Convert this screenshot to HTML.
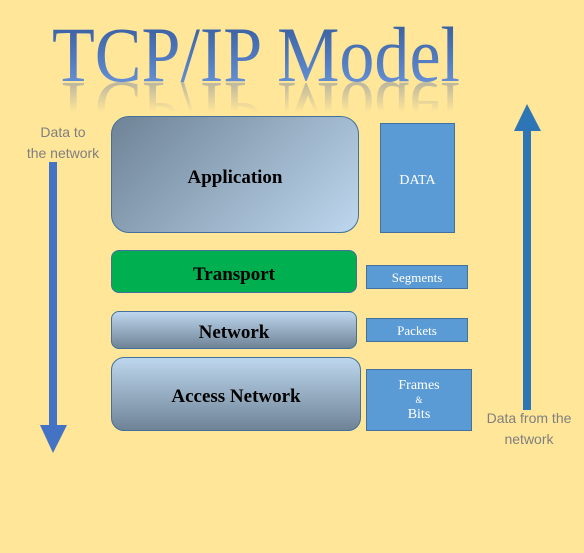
<!DOCTYPE html>
<html><head><style>
body{margin:0;width:584px;height:553px;background:#ffe699;position:relative;overflow:hidden;font-family:"Liberation Serif",serif}
.a{position:absolute;box-sizing:border-box}
.l{border:1px solid #41719c;display:flex;align-items:center;justify-content:center;font-weight:bold;font-size:19px;color:#000;padding-top:6px}
.g{background:linear-gradient(to bottom,#bdd7ee,#6f8396)}
.b{background:#5b9bd5;border:1px solid #41719c;color:#fff;display:flex;align-items:center;justify-content:center;font-size:14px;text-align:center;padding-top:6px}
.t{font-family:"Liberation Sans",sans-serif;color:#7f7f7f;font-size:14px;text-align:center;line-height:21px}
</style></head><body>
<svg class="a" style="left:0;top:0" width="584" height="553">
<defs>
<linearGradient id="tg" x1="0" y1="0" x2="0" y2="1"><stop offset="0" stop-color="#2f5597"/><stop offset="1" stop-color="#6f9be0"/></linearGradient>
<linearGradient id="mg" x1="0" y1="84" x2="0" y2="112" gradientUnits="userSpaceOnUse"><stop offset="0" stop-color="#fff" stop-opacity=".55"/><stop offset="1" stop-color="#fff" stop-opacity="0"/></linearGradient>
<mask id="m"><rect x="0" y="82" width="584" height="32" fill="url(#mg)"/></mask>
</defs>
<text x="52" y="81" font-family="Liberation Serif" font-size="78" fill="url(#tg)" textLength="408" lengthAdjust="spacingAndGlyphs">TCP/IP Model</text>
<g mask="url(#m)">
<g transform="translate(0,164) scale(1,-1)">
<text x="52" y="81" font-family="Liberation Serif" font-size="78" fill="#8a93a3" textLength="408" lengthAdjust="spacingAndGlyphs">TCP/IP Model</text>
</g></g>
<rect x="49" y="162" width="8" height="264" fill="#4472c4"/>
<polygon points="40,425 67,425 53,453" fill="#4472c4"/>
<rect x="523" y="128" width="8" height="282" fill="#2e75b6"/>
<polygon points="514,131 541,131 527,104" fill="#2e75b6"/>
</svg>
<div class="a t" style="left:20px;top:122px;width:86px">Data to<br>the network</div>
<div class="a t" style="left:476px;top:408px;width:106px">Data from the<br>network</div>
<div class="a l" style="left:111px;top:116px;width:248px;height:117px;border-radius:18px;background:linear-gradient(135deg,#6f8396,#bdd7ee)">Application</div>
<div class="a b" style="left:380px;top:123px;width:75px;height:110px">DATA</div>
<div class="a l" style="left:111px;top:250px;width:246px;height:43px;border-radius:8px;background:#00b050">Transport</div>
<div class="a b" style="left:366px;top:265px;width:102px;height:24px;padding-top:2px;font-size:13px">Segments</div>
<div class="a l g" style="left:111px;top:311px;width:246px;height:38px;border-radius:8px">Network</div>
<div class="a b" style="left:366px;top:318px;width:102px;height:24px;padding-top:2px;font-size:13px">Packets</div>
<div class="a l g" style="left:111px;top:357px;width:250px;height:74px;border-radius:13px">Access Network</div>
<div class="a" style="left:366px;top:369px;width:106px;height:62px;background:#5b9bd5;border:1px solid #41719c;color:#fff;text-align:center;font-size:14px;line-height:14px;padding-top:9px">Frames<br><span style="font-size:9px;line-height:15px">&amp;</span><br>Bits</div>
</body></html>
